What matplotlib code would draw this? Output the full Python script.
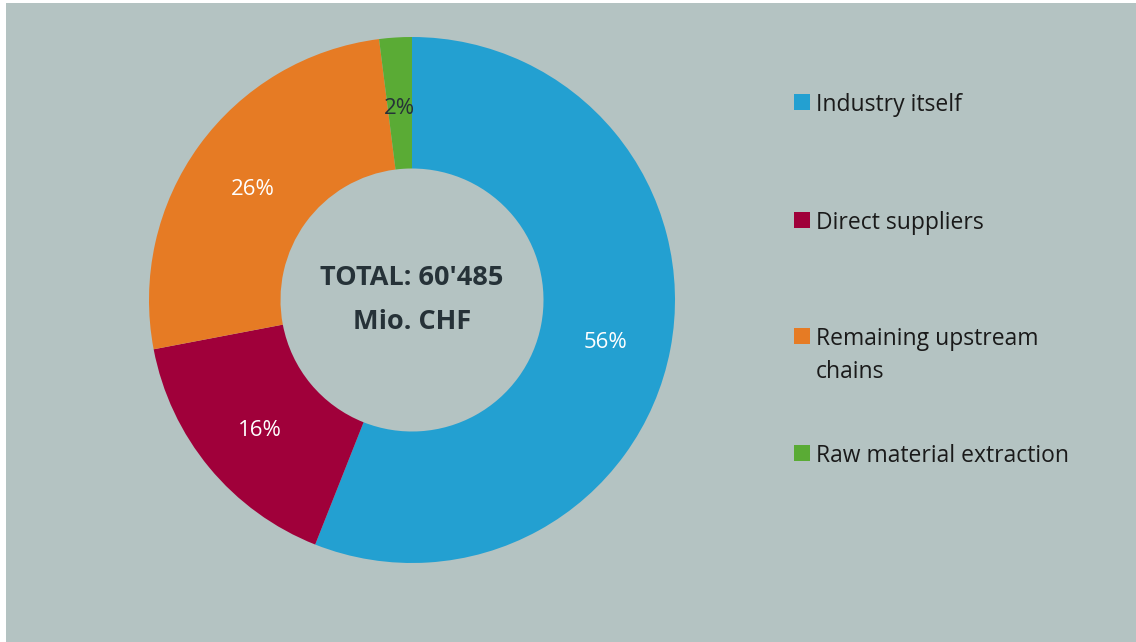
import matplotlib.pyplot as plt
from matplotlib.patches import Rectangle

categories = ["Industry itself", "Direct suppliers", "Remaining upstream\nchains", "Raw material extraction"]
shares = [56, 16, 26, 2]
colors = ["#23a0d1", "#a0003a", "#e67b24", "#5aab35"]
label_colors = ["white", "white", "white", "#263238"]
center_text = "TOTAL: 60'485\nMio. CHF"

bg = "#b4c3c2"
plt.rcParams['font.family'] = ['Open Sans', 'DejaVu Sans']

fig = plt.figure(figsize=(11.36, 6.42), dpi=100, facecolor="white")

# grey panel, with a thin white margin on the left and top like the original
back = fig.add_axes([6 / 1136, 0, 1 - 6 / 1136, 1 - 3 / 642])
back.set_facecolor(bg)
back.set_xticks([])
back.set_yticks([])
for s in back.spines.values():
    s.set_visible(False)

# donut: centre ~(412, 300) px, outer radius ~263 px
cx, cy, r = 412, 300, 263
ax = fig.add_axes([(cx - r) / 1136, (642 - cy - r) / 642, 2 * r / 1136, 2 * r / 642])
ax.set_facecolor("none")
wedges, texts = ax.pie(shares, colors=colors, startangle=90, counterclock=False,
                       wedgeprops=dict(width=0.5, edgecolor="none"),
                       labels=[f"{s}%" for s in shares], labeldistance=0.75)
for t, c in zip(texts, label_colors):
    x, y = t.get_position()
    t.set_position((x, y - 0.02))
    t.set_color(c)
    t.set_fontsize(16)
    t.set_ha("center")
    t.set_va("center")
ax.text(0, 0, center_text, ha="center", va="center", fontsize=19.5, fontweight="bold",
        color="#263238", linespacing=1.9)
ax.set_xlim(-1, 1)
ax.set_ylim(-1, 1)
ax.set_aspect("equal")

# legend drawn by hand so the square sits on the first text line
leg = fig.add_axes([0, 0, 1, 1])
leg.set_facecolor("none")
leg.set_xlim(0, 1136)
leg.set_ylim(642, 0)
leg.axis("off")
baselines = [111, 229, 345, 462]
for name, col, yb in zip(categories, colors, baselines):
    leg.add_patch(Rectangle((794, yb - 17), 16, 16, facecolor=col, edgecolor="none"))
    for k, line in enumerate(name.split("\n")):
        leg.text(816, yb + 33 * k, line, ha="left", va="baseline", fontsize=16.5,
                 color="#1a1a1a")

fig.savefig("out.png", dpi=100, facecolor="white")
